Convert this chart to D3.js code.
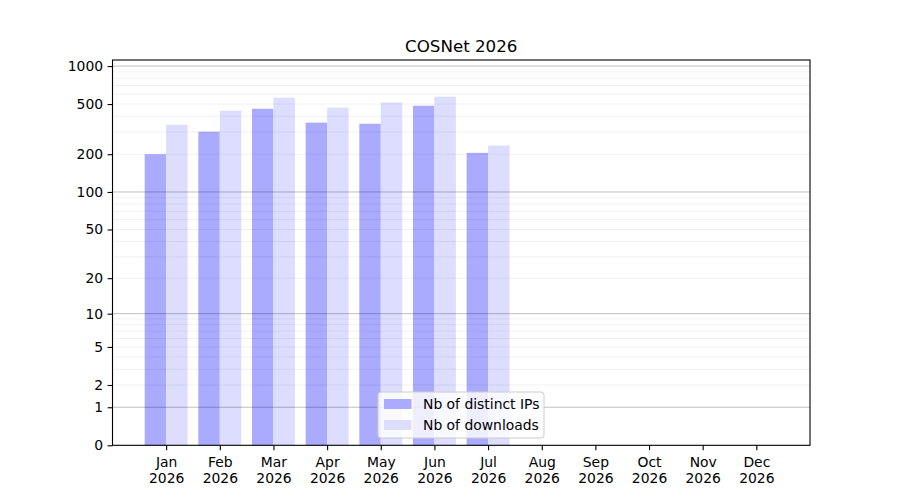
<!DOCTYPE html>
<html>
<head>
<meta charset="utf-8">
<script src="https://cdn.jsdelivr.net/npm/d3@7"></script>
<style>
  body { margin: 0; background: #fff; }
  text { font-family: "DejaVu Sans", sans-serif; fill: #000; }
</style>
</head>
<body>
<script>
var months = ["Jan", "Feb", "Mar", "Apr", "May", "Jun", "Jul", "Aug", "Sep", "Oct", "Nov", "Dec"]
var year = "2026"
var distinctIPs = [200, 302, 459, 356, 349, 485, 205]
var downloads = [343, 443, 562, 468, 513, 572, 234]
var yTicks = [0, 1, 2, 5, 10, 20, 50, 100, 200, 500, 1000]
var majorGrid = [1, 10, 100, 1000]
var seriesNames = ["Nb of distinct IPs", "Nb of downloads"]
var seriesColors = ["#aaaaff", "#ddddff"]

var width = 900
var height = 500
var plotLeft = 112.5, plotRight = 810, plotTop = 60, plotBottom = 445.3

var svg = d3.select("body").append("svg")
  .attr("width", width)
  .attr("height", height)

var x = d3.scaleLinear().domain([0, 13]).range([plotLeft, plotRight])
var y = d3.scaleSymlog().constant(1).domain([0, 1117]).range([plotBottom, plotTop])
var barW = x(0.4) - x(0)

// minor grid values 2..9 per decade
var minorGrid = []
;[1, 10, 100].forEach(function(d) {
  for (var k = 2; k <= 9; k++) minorGrid.push(d * k)
})

// bars
svg.append("g").selectAll("rect")
  .data(distinctIPs)
  .enter().append("rect")
  .attr("x", function(d, i) { return x(i + 1) - barW })
  .attr("y", function(d) { return y(d) })
  .attr("width", barW)
  .attr("height", function(d) { return plotBottom - y(d) })
  .attr("fill", seriesColors[0])

svg.append("g").selectAll("rect")
  .data(downloads)
  .enter().append("rect")
  .attr("x", function(d, i) { return x(i + 1) })
  .attr("y", function(d) { return y(d) })
  .attr("width", barW)
  .attr("height", function(d) { return plotBottom - y(d) })
  .attr("fill", seriesColors[1])

// grid on top of bars
svg.append("g").selectAll("line")
  .data(minorGrid)
  .enter().append("line")
  .attr("x1", plotLeft).attr("x2", plotRight)
  .attr("y1", function(d) { return y(d) })
  .attr("y2", function(d) { return y(d) })
  .attr("stroke", "#000").attr("stroke-opacity", 0.08).attr("stroke-width", 0.8)

svg.append("g").selectAll("line")
  .data(majorGrid)
  .enter().append("line")
  .attr("x1", plotLeft).attr("x2", plotRight)
  .attr("y1", function(d) { return y(d) })
  .attr("y2", function(d) { return y(d) })
  .attr("stroke", "#000").attr("stroke-opacity", 0.25).attr("stroke-width", 1)

// y axis
var yAxis = d3.axisLeft(y)
  .tickValues(yTicks)
  .tickFormat(d3.format("d"))
  .tickSize(4.9)
  .tickPadding(4.5)
var gy = svg.append("g")
  .attr("transform", "translate(" + plotLeft + ",0)")
  .call(yAxis)
gy.select(".domain").remove()
gy.selectAll("line").attr("stroke", "#000").attr("stroke-width", 1.1)
gy.selectAll("text").style("font-size", "13.9px").attr("fill", "#000")
  .style("font-family", "DejaVu Sans, sans-serif")

// x axis
var xAxis = d3.axisBottom(x)
  .tickValues(d3.range(1, 13))
  .tickFormat(function(d) { return months[d - 1] })
  .tickSize(4.9)
  .tickPadding(5)
var gx = svg.append("g")
  .attr("transform", "translate(0," + plotBottom + ")")
  .call(xAxis)
gx.select(".domain").remove()
gx.selectAll("line").attr("stroke", "#000").attr("stroke-width", 1.1)
gx.selectAll("text").remove()
gx.selectAll(".tick").append("text")
  .attr("text-anchor", "middle")
  .style("font-size", "13.9px")
  .selectAll("tspan")
  .data(function(d) { return [months[d - 1], year] })
  .enter().append("tspan")
  .attr("x", 0)
  .attr("y", function(d, i) { return 22 + i * 15.5 })
  .text(function(d) { return d })

// frame
svg.append("rect")
  .attr("x", plotLeft).attr("y", plotTop)
  .attr("width", plotRight - plotLeft).attr("height", plotBottom - plotTop)
  .attr("fill", "none").attr("stroke", "#000").attr("stroke-width", 1.1)

// title
svg.append("text")
  .attr("x", (plotLeft + plotRight) / 2)
  .attr("y", 52)
  .attr("text-anchor", "middle")
  .style("font-size", "16.7px")
  .text("COSNet 2026")

// legend
var lg = svg.append("g").attr("transform", "translate(378,392)")
lg.append("rect")
  .attr("width", 166).attr("height", 46).attr("rx", 3)
  .attr("fill", "#fff").attr("fill-opacity", 0.8)
  .attr("stroke", "#cccccc").attr("stroke-width", 1)
seriesNames.forEach(function(name, i) {
  lg.append("rect")
    .attr("x", 6).attr("y", 7 + i * 21)
    .attr("width", 27.5).attr("height", 10)
    .attr("fill", seriesColors[i])
  lg.append("text")
    .attr("x", 45).attr("y", 17 + i * 21)
    .style("font-size", "13.9px")
    .text(name)
})
</script>
</body>
</html>
